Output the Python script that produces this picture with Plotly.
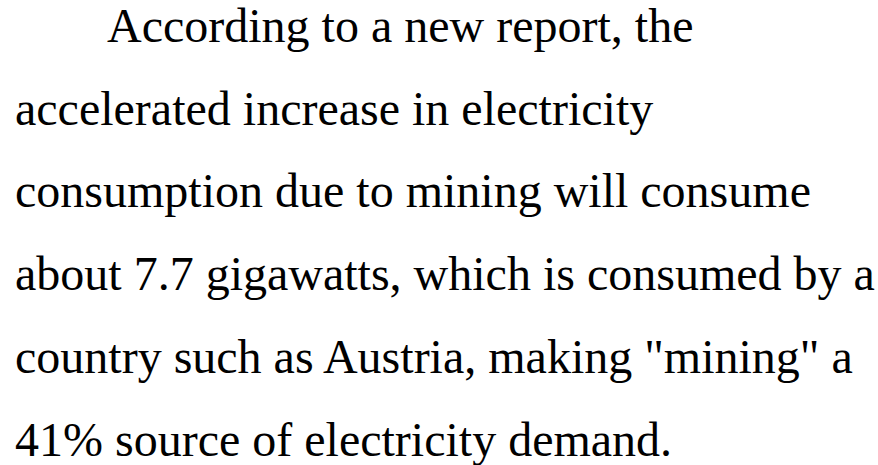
import plotly.graph_objects as go

lines = [
    "According to a new report, the",
    "accelerated increase in electricity",
    "consumption due to mining will consume",
    "about 7.7 gigawatts, which is consumed by a",
    "country such as Austria, making \"mining\" a",
    "41% source of electricity demand.",
]
indents = [92, 0, 0, 0, 0, 0]

W, H = 878, 465
left = 15
top_baseline = 41.7
spacing = 82.7
fsize = 48

fig = go.Figure()
for i, (t, ind) in enumerate(zip(lines, indents)):
    fig.add_annotation(
        x=left + ind, y=top_baseline + i * spacing,
        xref="x", yref="y", text=t, showarrow=False,
        xanchor="left", yanchor="middle",
        font=dict(family="Liberation Serif, Times New Roman, serif", size=fsize, color="black"),
        borderpad=0, borderwidth=0, yshift=fsize * 0.3375,
    )

fig.update_xaxes(range=[0, W], visible=False, fixedrange=True)
fig.update_yaxes(range=[H, 0], visible=False, fixedrange=True)
fig.update_layout(
    width=W, height=H, margin=dict(l=0, r=0, t=0, b=0),
    paper_bgcolor="white", plot_bgcolor="white", showlegend=False,
)
fig.write_html("out.html", config={"displayModeBar": False},
               post_script="document.body.style.margin='0';")
